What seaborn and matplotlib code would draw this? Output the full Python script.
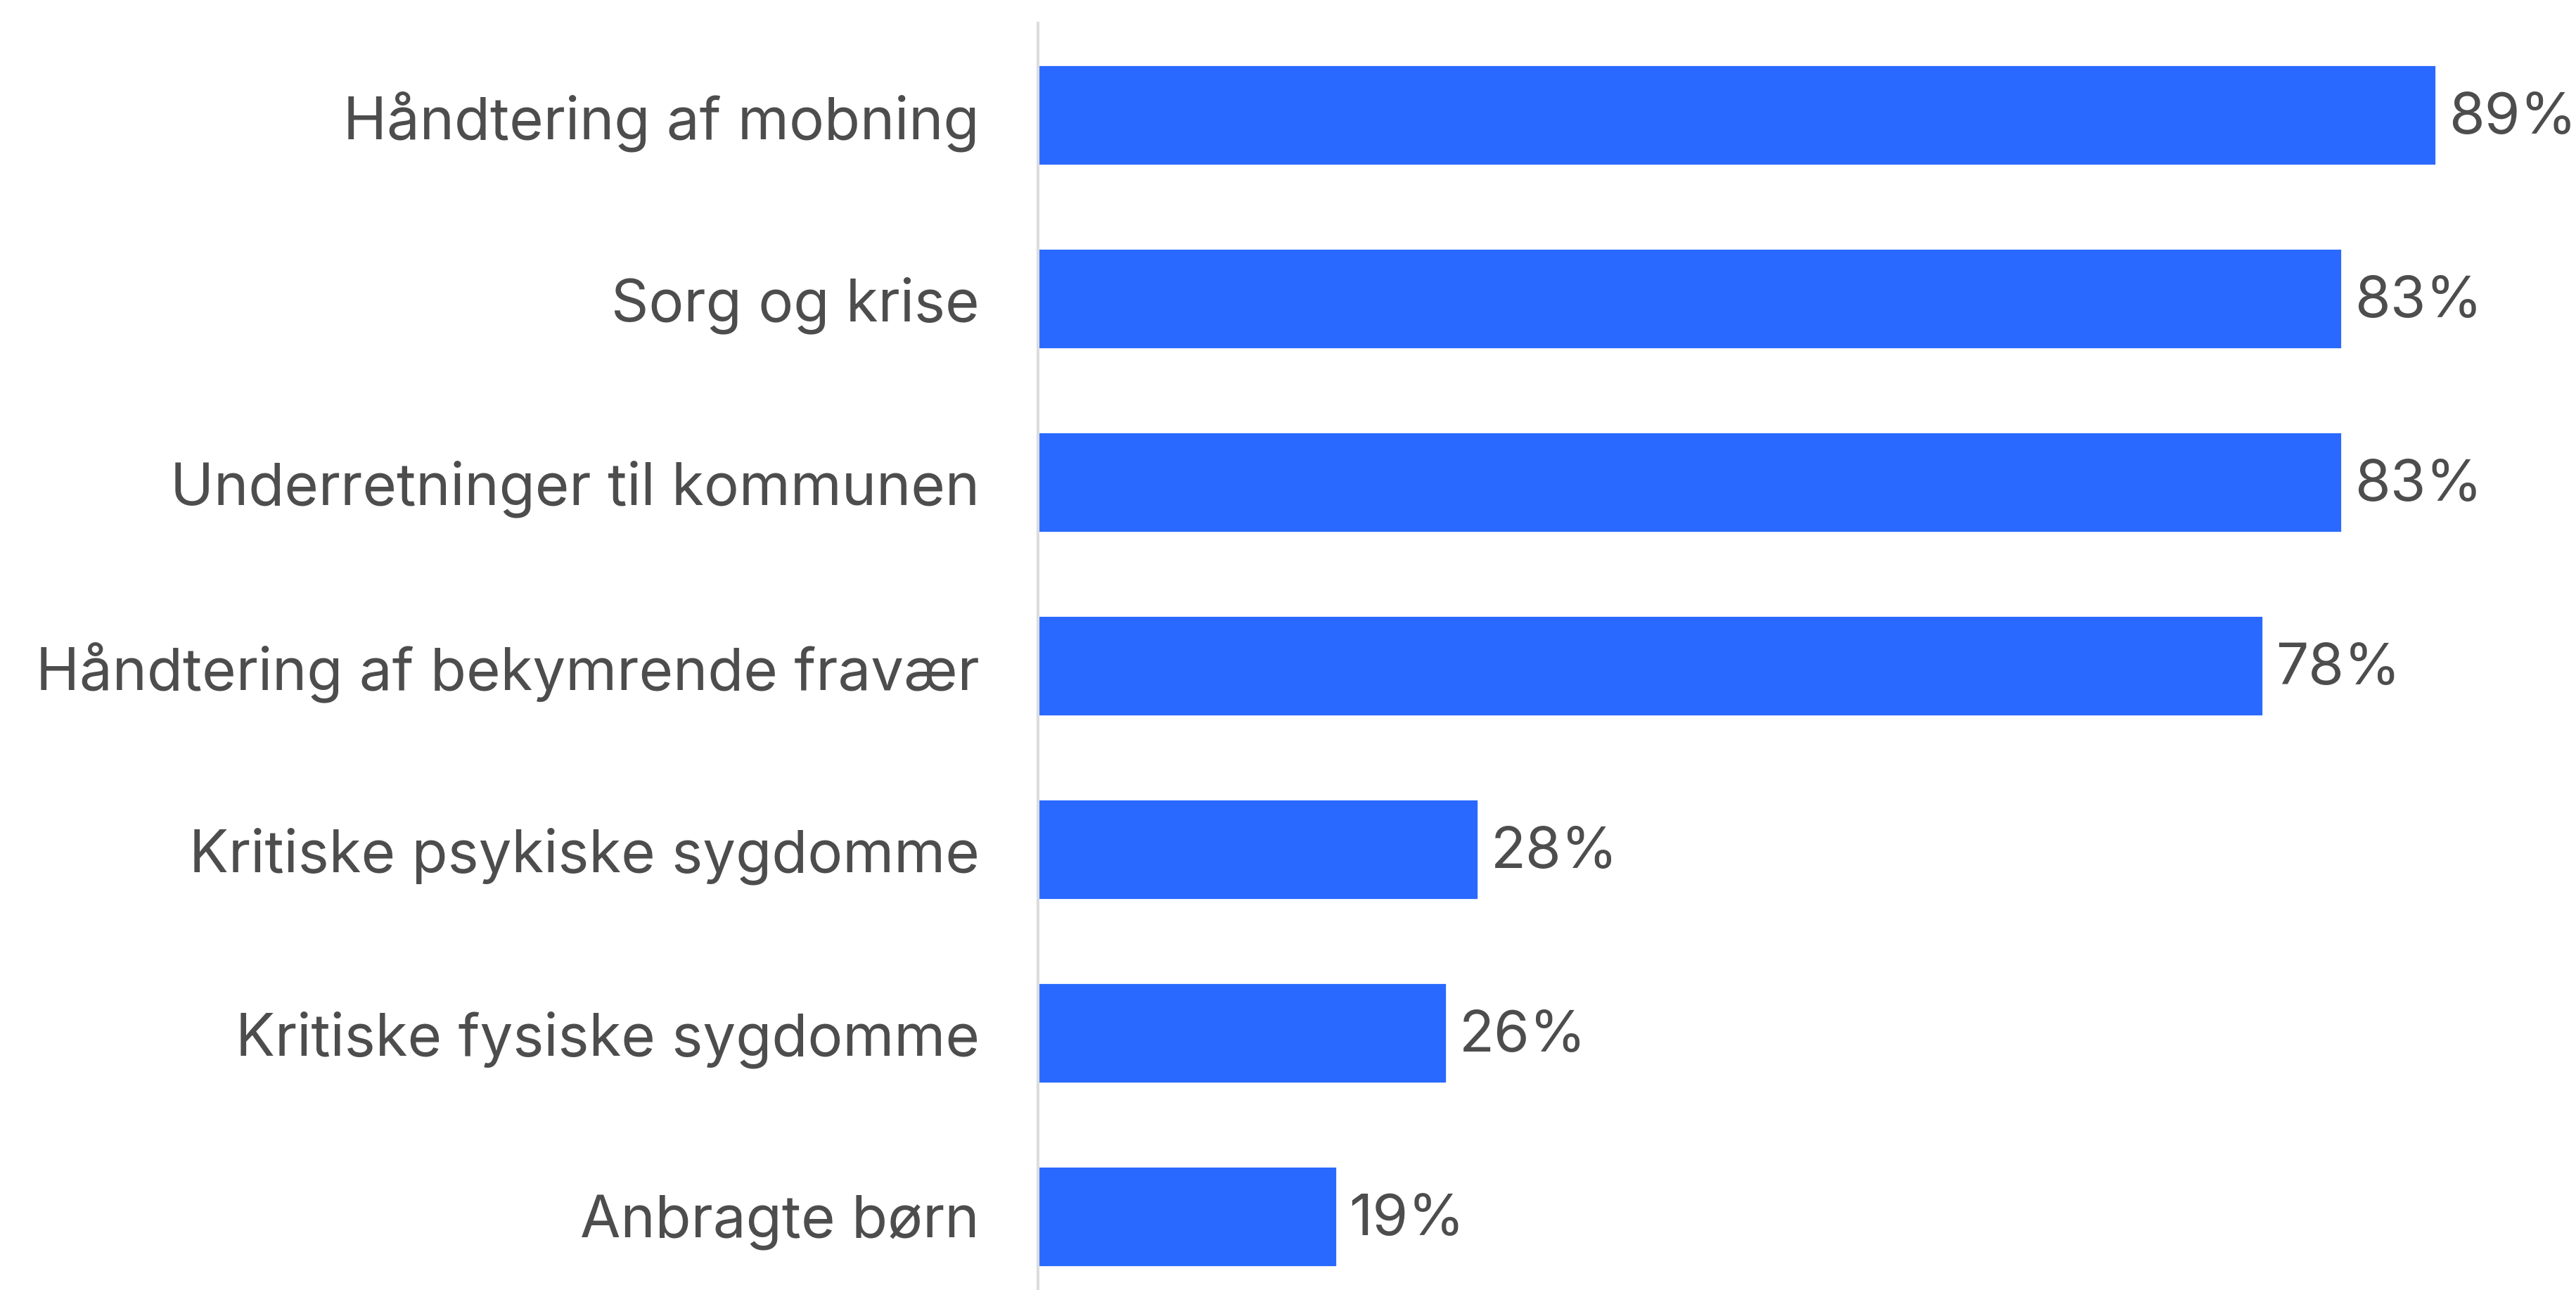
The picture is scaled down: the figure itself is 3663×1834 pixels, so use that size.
import pandas as pd
import matplotlib.pyplot as plt
import seaborn as sns

# chart values
categories = ["Håndtering af mobning", "Sorg og krise", "Underretninger til kommunen",
              "Håndtering af bekymrende fravær", "Kritiske psykiske sygdomme",
              "Kritiske fysiske sygdomme", "Anbragte børn"]
values = [89, 83, 83, 78, 28, 26, 19]
value_labels = ["89%", "83%", "83%", "78%", "28%", "26%", "19%"]

df = pd.DataFrame({"kategori": categories, "andel": values})

sns.set_theme(style="white")
plt.rcParams['font.family'] = ['Inter', 'DejaVu Sans']

text_color = "#4d4d4d"
bar_color = "#2969ff"

fig = plt.figure(figsize=(18.315, 9.17), dpi=200)
ax = fig.add_axes([0.403, 0.0, 0.597, 0.982])

sns.barplot(data=df, x="andel", y="kategori", color=bar_color, saturation=1,
            width=0.55, ax=ax)

for i, lab in enumerate(value_labels):
    ax.text(values[i] + 0.8, i + 0.02, lab, va="center", ha="left",
            fontsize=29.5, color=text_color)

ax.set_xlim(0, 97.9)
ax.set_ylim(6.4, -0.5)
ax.set_xlabel("")
ax.set_ylabel("")
ax.set_xticks([])
ax.tick_params(axis="y", length=0, pad=30, labelsize=30, labelcolor=text_color)

for s in ["top", "right", "bottom"]:
    ax.spines[s].set_visible(False)
ax.spines["left"].set_color("#dddddd")
ax.spines["left"].set_linewidth(1.5)

fig.savefig("out.png", dpi=200, facecolor="white")
